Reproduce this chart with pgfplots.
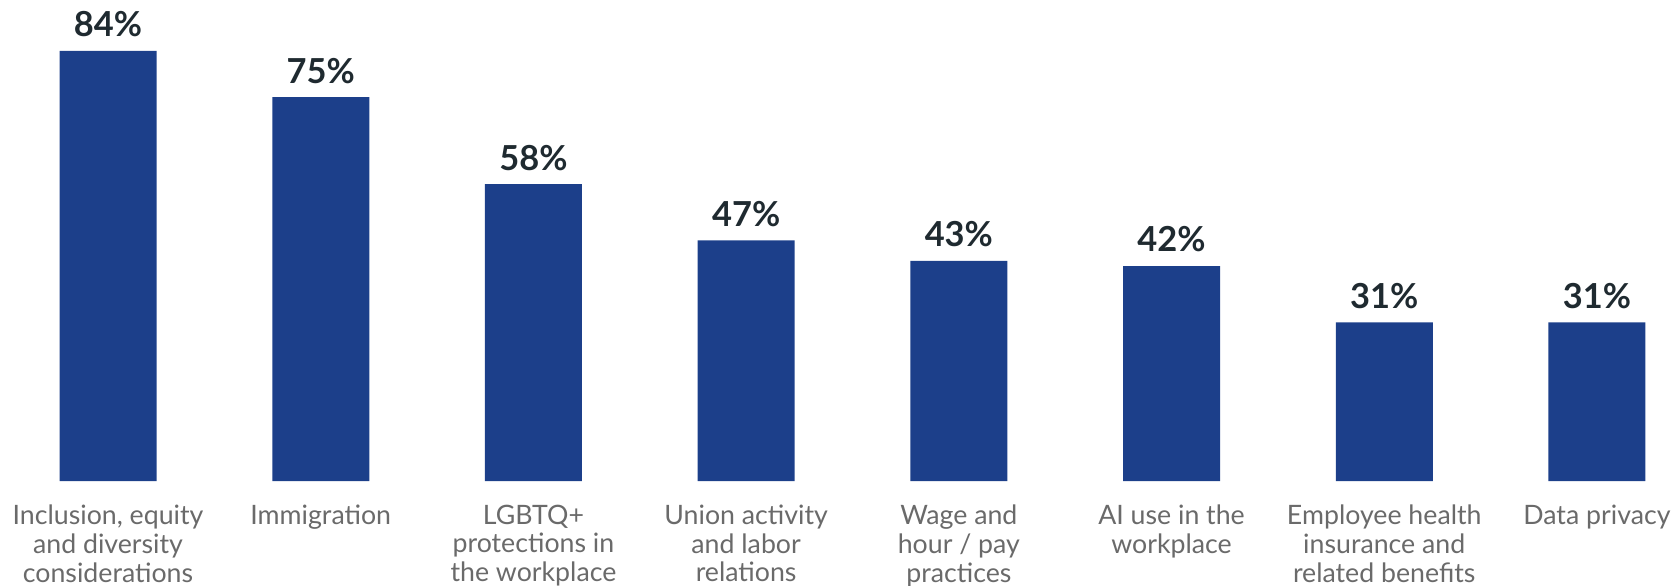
\documentclass[border=0pt]{standalone}
\usepackage{pgfplots}
\pgfplotsset{compat=1.18}
\usepackage{fontspec}
\setmainfont{Lato}
\definecolor{barblue}{HTML}{1C3F8A}
\definecolor{lblgray}{HTML}{6A6A6A}
\definecolor{valdark}{HTML}{1F2A30}
\begin{document}
\begin{tikzpicture}
\begin{axis}[name=ax, scale only axis, width=167.5mm, height=48.1mm,
  xmin=-0.508, xmax=7.367, ymin=0, ymax=93.96,
  /pgf/number format/assume math mode=true,
  axis line style={draw=none}, major tick length=0pt,
  ytick=\empty,
  ybar, bar width=9.7mm,
  xtick={0,...,7},
  xticklabels={{Inclusion, equity\\and diversity\\considerations},
    {Immigration},
    {LGBTQ+\\protections in\\the workplace},
    {Union activity\\and labor\\relations},
    {Wage and\\hour / pay\\practices},
    {AI use in the\\workplace},
    {Employee health\\insurance and\\related benefits},
    {Data privacy}},
  xticklabel style={align=center, font=\fontsize{7.6}{8.2}\selectfont, text=lblgray, anchor=north, inner sep=0pt, yshift=-2.3mm},
  nodes near coords={\pgfmathprintnumber{\pgfplotspointmeta}\%},
  nodes near coords style={font=\fontsize{9.8}{11}\selectfont\bfseries, text=valdark, anchor=south, inner sep=0pt, yshift=1.3mm},
]
\addplot[fill=barblue, draw=none] coordinates {(0,84) (1,75) (2,58) (3,47) (4,43) (5,42) (6,31) (7,31)};
\end{axis}
\pgfresetboundingbox
\path (ax.south west) ++(0,-10.4mm) rectangle (ax.north east);
\end{tikzpicture}
\end{document}
